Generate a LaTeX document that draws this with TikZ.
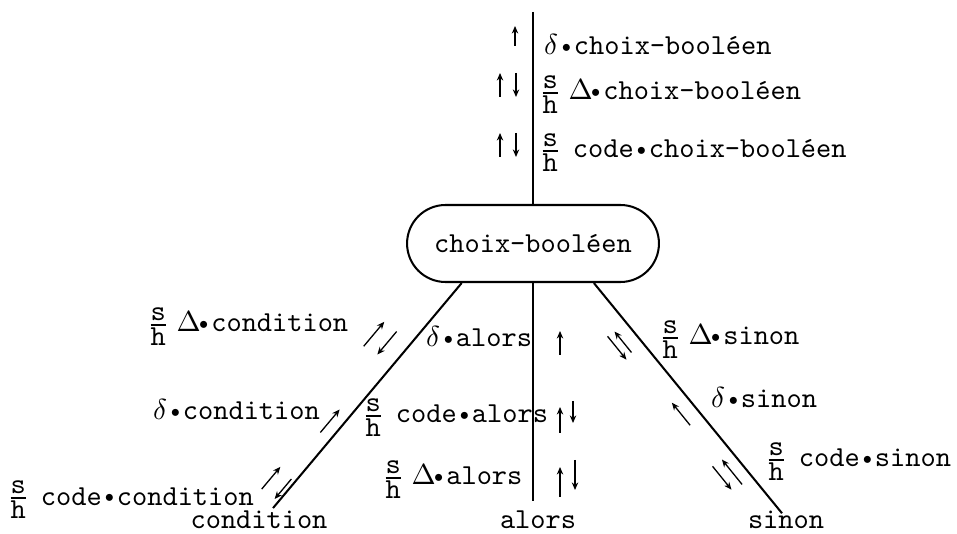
\documentclass[tikz,border=0pt]{standalone}
\usetikzlibrary{arrows.meta}
\newcommand\sh{{\nulldelimiterspace=0pt$\mbox{s}\above0.6pt\mbox{h}$}}
\newcommand\cel[1]{\makebox[0.525em]{#1}}
\newcommand\mydelta{\cel{$\delta$}}
\newcommand\myDelta{\cel{$\Delta$}}
\newcommand\mybul{\cel{\raisebox{1.1pt}{$\scriptscriptstyle\bullet$}}}
\tikzset{
  ln/.style={line width=0.7pt},
  sa/.style={line width=0.45pt, -{Stealth[length=2.6pt,width=2.2pt]}},
  lab/.style={anchor=base west, inner sep=0pt, font=\ttfamily},
  nm/.style={anchor=base, font=\ttfamily},
  box/.style={draw, line width=0.7pt, rounded corners=13.3pt, minimum width=87pt,
    minimum height=26.6pt, inner sep=0pt, font=\ttfamily},
  pics/aup/.style={code={\draw[sa] (0,#1/2) -- (0,-#1/2);}},
  pics/aup/.default=24,
  pics/adn/.style={code={\draw[sa] (0,-#1/2) -- (0,#1/2);}},
  pics/adn/.default=24,
}
\begin{document}
\begin{tikzpicture}[x=0.3454pt, y=-0.3454pt]
\useasboundingbox (0,0) rectangle (957,534);
% central node
\node[box] (cb) at (533,243.5) {choix-booléen};
% end nodes
\node[nm] (co) at (259,529) {condition};
\node[nm] (al) at (538,529) {alors};
\node[nm] (si) at (786,529) {sinon};
\coordinate (top) at (533,12);
% connectors
\draw[ln] (top) -- (cb.north);
\draw[ln] (cb.209.5) -- ([shift={(14,7)}]co.north);
\draw[ln] (cb.south) -- (cb.south |- al.north);
\draw[ln] (cb.-33) -- ([shift={(-4,12)}]si.north);
% top labels
\node[lab] (t1) at (543,55) {\mydelta\mybul choix-booléen};
\node[lab] (t2) at (542,100) {\sh{} \myDelta\mybul choix-booléen};
\node[lab] (t3) at (542,158) {\sh{} code\mybul choix-booléen};
\pic at (515,36) {aup=20};
\pic at (500,85) {aup};
\pic at (516,85) {adn};
\pic at (500,145) {aup};
\pic at (516,145) {adn};
% condition side
\node[lab] (lc1) at (150,332) {\sh{} \myDelta\mybul condition};
\node[lab] (da) at (425,347) {\mydelta\mybul alors};
\node[lab] (dc) at (152,420) {\mydelta\mybul condition};
\node[lab] (ca) at (365,423) {\sh{} code\mybul alors};
\node[lab] (cc) at (10,505) {\sh{} code\mybul condition};
\node[lab] (Da) at (385,485) {\sh{} \myDelta\mybul alors};
\pic[rotate=-40] at (374,334) {aup=32};
\pic[rotate=-40] at (387,343) {adn=30};
\pic[rotate=-40] at (330,421) {aup=30};
\pic[rotate=-40] at (271,478) {aup=29};
\pic[rotate=-40] at (283,489) {adn=26};
% alors arrows
\pic at (560,343) {aup};
\pic at (560,420) {aup=26};
\pic at (573,412) {adn=22};
\pic at (560,482) {aup=30};
\pic at (575,475) {adn=30};
% sinon side
\node[lab] (Ds) at (662,345) {\sh{} \myDelta\mybul sinon};
\node[lab] (ds) at (710,408) {\mydelta\mybul sinon};
\node[lab] (cs) at (768,467) {\sh{} code\mybul sinon};
\pic[rotate=39] at (623,342) {aup=27};
\pic[rotate=39] at (617,348) {adn=30};
\pic[rotate=39] at (681,414) {aup=29};
\pic[rotate=39] at (732,472) {aup=32};
\pic[rotate=39] at (722,478) {adn=30};
\end{tikzpicture}
\end{document}
